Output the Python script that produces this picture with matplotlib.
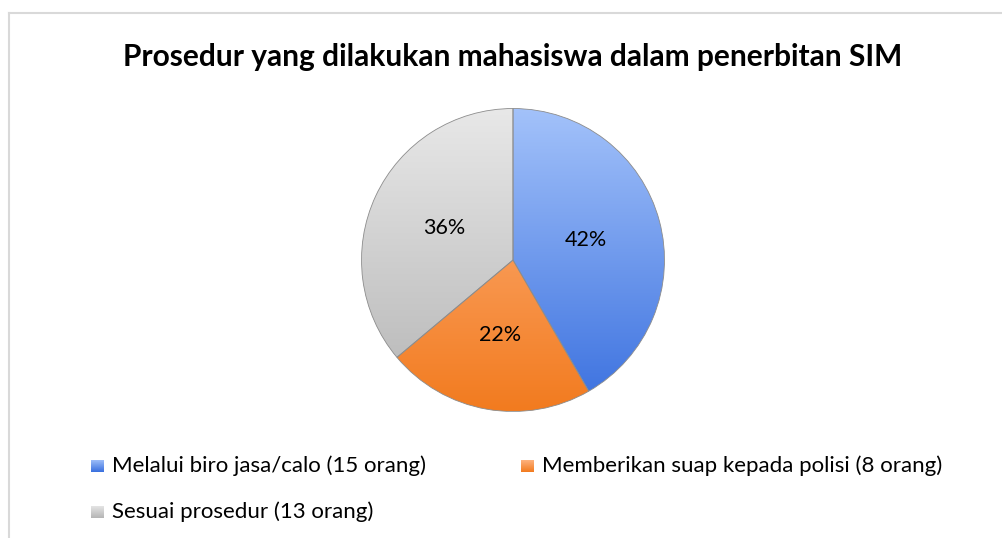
import matplotlib.pyplot as plt
import matplotlib.colors as mcolors
from matplotlib.lines import Line2D
import numpy as np

plt.rcParams['font.family'] = ['Lato', 'DejaVu Sans']

title = "Prosedur yang dilakukan mahasiswa dalam penerbitan SIM"
labels = ["Melalui biro jasa/calo (15 orang)",
          "Memberikan suap kepada polisi (8 orang)",
          "Sesuai prosedur (13 orang)"]
counts = [15, 8, 13]
# top / bottom colour of each slice gradient
top_colors = ["#a3c2fa", "#ffb685", "#e8e8e8"]
bottom_colors = ["#3a70df", "#f27b1f", "#b5b5b5"]

fig = plt.figure(figsize=(10.03, 5.38), dpi=100)

# chart frame
fig.add_artist(Line2D([9.5 / 1003, 1.0], [1 - 13 / 538] * 2, color="#d9d9d9", lw=1.5))
fig.add_artist(Line2D([9.5 / 1003] * 2, [0, 1 - 13 / 538], color="#d9d9d9", lw=1.5))

fig.text(513 / 1003, 1 - 57 / 538, title, ha="center", va="center",
         fontsize=21.5, fontweight="bold", color="black")

r_px = 153
cx, cy = 513, 260
ax = fig.add_axes([(cx - r_px) / 1003, (538 - cy - r_px) / 538,
                   2 * r_px / 1003, 2 * r_px / 538])
wedges, _, autotexts = ax.pie(counts, startangle=90, counterclock=False,
                              autopct=lambda p: f"{p:.0f}%", pctdistance=0.5,
                              wedgeprops=dict(linewidth=0.6, edgecolor="#8c8c8c"),
                              textprops=dict(fontsize=15.5, color="black"))
ax.set_xlim(-1.01, 1.01)
ax.set_ylim(-1.01, 1.01)
ax.set_aspect("equal")
ax.axis("off")

for w, c1, c2 in zip(wedges, top_colors, bottom_colors):
    cmap = mcolors.LinearSegmentedColormap.from_list("g", [c2, c1])
    grad = np.linspace(0, 1, 256).reshape(-1, 1)
    im = ax.imshow(grad, cmap=cmap, extent=(-1, 1, -1, 1), origin="lower",
                   aspect="auto", zorder=w.get_zorder() - 0.1)
    im.set_clip_path(w)
    w.set_facecolor("none")
for t in autotexts:
    t.set_zorder(5)

# legend
leg_pos = [(91, 466), (521, 466), (91, 512)]
for (lx, ly), lab, c1, c2 in zip(leg_pos, labels, top_colors, bottom_colors):
    lax = fig.add_axes([lx / 1003, (538 - ly - 6.5) / 538, 13 / 1003, 13 / 538])
    cmap = mcolors.LinearSegmentedColormap.from_list("g", [c2, c1])
    lax.imshow(np.linspace(0, 1, 32).reshape(-1, 1), cmap=cmap, origin="lower",
               aspect="auto", extent=(0, 1, 0, 1))
    lax.axis("off")
    fig.text((lx + 21) / 1003, 1 - ly / 538, lab, ha="left", va="center",
             fontsize=16, color="black")

fig.savefig("out.png", dpi=100, facecolor="white")
